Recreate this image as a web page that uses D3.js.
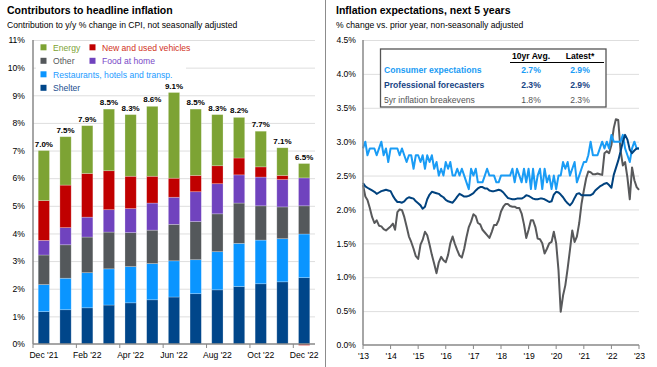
<!DOCTYPE html>
<html>
<head>
<meta charset="utf-8">
<script src="https://cdn.jsdelivr.net/npm/d3@7"></script>
<style>
  body { margin: 0; background: #fff; }
  svg { display: block; font-family: "Liberation Sans", Arial, sans-serif; }
</style>
</head>
<body>
<svg id="chart" width="657" height="367"></svg>
<script>
// ---- left panel data: contributions to y/y CPI (pp) ----
const months = ["Dec '21", "Jan '22", "Feb '22", "Mar '22", "Apr '22", "May '22", "Jun '22",
  "Jul '22", "Aug '22", "Sep '22", "Oct '22", "Nov '22", "Dec '22"];
const shelter = [1.17, 1.24, 1.31, 1.41, 1.49, 1.60, 1.70, 1.82, 1.96, 2.08, 2.18, 2.25, 2.40];
const restaurants = [0.98, 1.14, 1.27, 1.31, 1.31, 1.31, 1.31, 1.23, 1.38, 1.56, 1.58, 1.56, 1.58];
const other = [1.07, 1.21, 1.29, 1.33, 1.23, 1.21, 1.32, 1.38, 1.37, 1.46, 1.24, 1.15, 1.02];
const foodAtHome = [0.53, 0.62, 0.72, 0.81, 0.87, 0.98, 0.98, 1.08, 1.09, 1.02, 1.04, 0.99, 1.01];
const vehicles = [1.44, 1.54, 1.58, 1.41, 1.17, 0.97, 0.69, 0.59, 0.65, 0.61, 0.37, 0.15, -0.05];
const energy = [1.81, 1.75, 1.73, 2.23, 2.23, 2.53, 3.10, 2.40, 1.85, 1.47, 1.29, 1.00, 0.52];
const headline = [7.0, 7.5, 7.9, 8.5, 8.3, 8.6, 9.1, 8.5, 8.3, 8.2, 7.7, 7.1, 6.5];
const leftTicks = [0, 1, 2, 3, 4, 5, 6, 7, 8, 9, 10, 11];

// ---- right panel data: monthly, Jan 2013 .. Jan 2023 ----
const consumer = [
  2.9, 3.0, 2.8, 2.9, 2.9, 2.9, 2.8, 2.9, 3.0, 2.8, 2.9, 2.7,
  2.9, 2.9, 2.9, 2.9, 2.8, 2.9, 2.8, 2.7, 2.8, 2.8, 2.6, 2.8,
  2.8, 2.7, 2.8, 2.6, 2.8, 2.7, 2.8, 2.6, 2.7, 2.5, 2.6, 2.5,
  2.7, 2.6, 2.7, 2.5, 2.5, 2.6, 2.5, 2.6, 2.5, 2.4, 2.3, 2.6,
  2.5, 2.6, 2.4, 2.4, 2.4, 2.5, 2.6, 2.5, 2.5, 2.5, 2.4, 2.4,
  2.5, 2.5, 2.5, 2.5, 2.5, 2.6, 2.4, 2.6, 2.5, 2.4, 2.6, 2.4,
  2.6, 2.3, 2.6, 2.3, 2.5, 2.6, 2.3, 2.6, 2.4, 2.5, 2.3, 2.5,
  2.3, 2.5, 2.5, 2.7, 2.6, 2.7, 2.5, 2.6, 2.7, 2.4, 2.5, 2.6,
  2.7, 2.7, 2.8, 3.0, 2.8, 2.8, 2.8, 2.9, 3.0, 2.9, 3.0, 2.9,
  3.1, 3.0, 3.0, 3.0, 3.0, 3.1, 2.9, 2.8, 2.7, 2.9, 3.0, 2.9,
  2.9];
const professional = [
  2.39, 2.34, 2.32, 2.30, 2.28, 2.26, 2.23, 2.25, 2.27, 2.28, 2.29, 2.28,
  2.27, 2.20, 2.15, 2.11, 2.11, 2.10, 2.12, 2.16, 2.18, 2.17, 2.16, 2.12,
  2.09, 2.06, 2.01, 2.04, 2.15, 2.22, 2.26, 2.25, 2.24, 2.23, 2.20, 2.18,
  2.14, 2.12, 2.11, 2.10, 2.14, 2.19, 2.23, 2.21, 2.19, 2.19, 2.20, 2.22,
  2.24, 2.28, 2.31, 2.33, 2.33, 2.31, 2.31, 2.28, 2.27, 2.27, 2.28, 2.29,
  2.28, 2.25, 2.21, 2.17, 2.16, 2.15, 2.15, 2.16, 2.16, 2.16, 2.18, 2.21,
  2.20, 2.18, 2.16, 2.15, 2.15, 2.16, 2.16, 2.15, 2.13, 2.11, 2.12, 2.22,
  2.26, 2.25, 2.22, 2.18, 2.13, 2.09, 2.06, 2.10, 2.17, 2.23, 2.24, 2.21,
  2.21, 2.21, 2.21, 2.21, 2.23, 2.28, 2.31, 2.34, 2.36, 2.38, 2.39, 2.36,
  2.32, 2.51, 2.61, 2.72, 2.85, 3.00, 3.10, 3.03, 2.88, 2.83, 2.87, 2.90,
  2.90];
const breakevens = [
  2.36, 2.19, 2.14, 2.02, 1.89, 1.80, 1.84, 1.76, 1.75, 1.71, 1.69, 1.72,
  1.75, 1.79, 1.70, 1.96, 2.00, 1.99, 1.89, 1.75, 1.60, 1.52, 1.42, 1.31,
  1.27, 1.48, 1.55, 1.67, 1.62, 1.48, 1.33, 1.20, 1.06, 1.22, 1.30, 1.25,
  1.22, 1.33, 1.50, 1.60, 1.49, 1.40, 1.32, 1.29, 1.42, 1.59, 1.74, 1.82,
  1.93, 1.90, 1.80, 1.78, 1.70, 1.66, 1.62, 1.58, 1.67, 1.77, 1.77, 1.84,
  1.97, 2.04, 2.08, 2.08, 2.05, 2.04, 2.04, 2.02, 2.02, 1.94, 1.78, 1.58,
  1.70, 1.84, 1.84, 1.74, 1.57, 1.56, 1.50, 1.35, 1.42, 1.50, 1.52, 1.67,
  1.50, 1.10, 0.49, 0.73, 0.88, 1.13, 1.40, 1.69, 1.52, 1.60, 1.80, 2.08,
  2.28, 2.46, 2.56, 2.55, 2.52, 2.52, 2.53, 2.52, 2.51, 2.83, 2.86, 2.83,
  2.95, 3.20, 3.33, 3.32, 2.88, 2.65, 2.70, 2.47, 2.15, 2.62, 2.43, 2.33,
  2.29];
const rightTicks = [0, 0.5, 1, 1.5, 2, 2.5, 3, 3.5, 4, 4.5];
const tableRows = [
  { name: "Consumer expectations", avg: "2.7%", latest: "2.9%" },
  { name: "Professional forecasters", avg: "2.3%", latest: "2.9%" },
  { name: "5yr inflation breakevens", avg: "1.8%", latest: "2.3%" }
];

const W = 657, H = 367;
const svg = d3.select("#chart");
svg.append("rect").attr("width", W).attr("height", H).attr("fill", "#fff");

// divider between the two panels
svg.append("line").attr("x1", 325.5).attr("x2", 325.5).attr("y1", 0).attr("y2", H)
  .attr("stroke", "#8c8c8c").attr("stroke-width", 1);

// ================= left panel =================
const L = { left: 33, right: 315, top: 40, bottom: 344 };

svg.append("text").attr("x", 7).attr("y", 14).attr("font-size", 10.5).attr("font-weight", "bold")
  .text("Contributors to headline inflation");
svg.append("text").attr("x", 7).attr("y", 27.5).attr("font-size", 8.6)
  .text("Contribution to y/y % change in CPI, not seasonally adjusted");

const x = d3.scaleBand().domain(months).range([L.left, L.right])
  .paddingInner(0.48).paddingOuter(0.24);
const y = d3.scaleLinear().domain([0, 11]).range([L.bottom, L.top]);

// gridlines
svg.append("g").selectAll("line").data(leftTicks.filter(d => d > 0)).join("line")
  .attr("x1", L.left).attr("x2", L.right)
  .attr("y1", d => y(d) + 0.5).attr("y2", d => y(d) + 0.5)
  .attr("stroke", "#dedede").attr("stroke-width", 1);

// legend backdrop sits under the bars and labels
svg.append("rect").attr("x", 36).attr("y", 42).attr("width", 150).attr("height", 51).attr("fill", "#fff");

// y tick labels
svg.append("g").attr("transform", `translate(${L.left},0)`)
  .call(d3.axisLeft(y).tickValues(leftTicks).tickFormat(d => d + "%").tickSize(0).tickPadding(8))
  .call(g => g.select(".domain").remove())
  .selectAll("text").attr("font-size", 8.6).attr("font-family", null).attr("fill", "#000");

const keys = ["shelter", "restaurants", "other", "food", "vehicles", "energy"];
const colors = {
  shelter: "#00468a", restaurants: "#0a95ff", other: "#54585b",
  food: "#7043be", vehicles: "#c00000", energy: "#7da334"
};
const rows = months.map((m, i) => ({
  month: m, shelter: shelter[i], restaurants: restaurants[i], other: other[i],
  food: foodAtHome[i], vehicles: vehicles[i], energy: energy[i]
}));
const series = d3.stack().keys(keys).offset(d3.stackOffsetDiverging)(rows);

svg.append("g").selectAll("g").data(series).join("g")
  .attr("fill", s => colors[s.key])
  .selectAll("rect").data(s => s).join("rect")
  .attr("x", d => x(d.data.month))
  .attr("width", x.bandwidth())
  .attr("y", d => y(Math.max(d[0], d[1])))
  .attr("height", d => Math.abs(y(d[0]) - y(d[1])))
  .attr("stroke", "rgba(255,255,255,0.35)").attr("stroke-width", 0.7);

// headline labels
const posTop = rows.map(r => keys.reduce((s, k) => s + Math.max(0, r[k]), 0));
svg.append("g").selectAll("text").data(months).join("text")
  .attr("x", d => x(d) + x.bandwidth() / 2)
  .attr("y", (d, i) => y(posTop[i]) - 4)
  .attr("text-anchor", "middle").attr("font-size", 8).attr("font-weight", "bold")
  .text((d, i) => headline[i].toFixed(1) + "%");

// axes lines
svg.append("line").attr("x1", L.left).attr("x2", L.left).attr("y1", L.top).attr("y2", L.bottom)
  .attr("stroke", "#888").attr("stroke-width", 1.5);
svg.append("line").attr("x1", L.left).attr("x2", L.right).attr("y1", L.bottom).attr("y2", L.bottom)
  .attr("stroke", "#888").attr("stroke-width", 1.5);

const gap = (x.step() - x.bandwidth()) / 2;
const shownMonths = months.filter((m, i) => i % 2 === 0);
svg.append("g").selectAll("line").data(shownMonths).join("line")
  .attr("x1", d => x(d) - gap).attr("x2", d => x(d) - gap)
  .attr("y1", L.bottom).attr("y2", L.bottom + 4)
  .attr("stroke", "#888").attr("stroke-width", 1);

svg.append("g").attr("transform", `translate(0,${L.bottom})`)
  .call(d3.axisBottom(x).tickValues(shownMonths).tickSize(0).tickPadding(8))
  .call(g => g.select(".domain").remove())
  .selectAll("text").attr("font-size", 8.6).attr("font-family", null).attr("fill", "#000");

// legend
const legend = [
  { key: "energy", label: "Energy", col: 0, row: 0, text: "#7da334" },
  { key: "vehicles", label: "New and used vehicles", col: 1, row: 0, text: "#d0301a" },
  { key: "other", label: "Other", col: 0, row: 1, text: "#54585b" },
  { key: "food", label: "Food at home", col: 1, row: 1, text: "#7a4ac8" },
  { key: "restaurants", label: "Restaurants, hotels and transp.", col: 0, row: 2, text: "#1c9bff" },
  { key: "shelter", label: "Shelter", col: 0, row: 3, text: "#1d4f8f" }
];
const lg = svg.append("g").selectAll("g").data(legend).join("g")
  .attr("transform", d => `translate(${d.col ? 89.5 : 40.5},${44.3 + d.row * 13.5})`);
lg.append("rect").attr("width", 6).attr("height", 6).attr("fill", d => colors[d.key]);
lg.append("text").attr("x", 12.5).attr("y", 6.4).attr("font-size", 8.6)
  .attr("fill", d => d.text).text(d => d.label);

// ================= right panel =================
const R = { left: 363, right: 639, top: 40, bottom: 345 };

svg.append("text").attr("x", 336).attr("y", 14).attr("font-size", 10.5).attr("font-weight", "bold")
  .text("Inflation expectations, next 5 years");
svg.append("text").attr("x", 336).attr("y", 27.5).attr("font-size", 8.6)
  .text("% change vs. prior year, non-seasonally adjusted");

const dates = d3.utcMonths(new Date(Date.UTC(2013, 0, 1)), new Date(Date.UTC(2023, 0, 2)));
const xt = d3.scaleUtc().domain([new Date(Date.UTC(2013, 0, 1)), new Date(Date.UTC(2023, 0, 1))])
  .range([R.left, R.right]);
const y2 = d3.scaleLinear().domain([0, 4.5]).range([R.bottom, R.top]);

svg.append("g").selectAll("line").data(rightTicks.filter(d => d > 0)).join("line")
  .attr("x1", R.left).attr("x2", R.right)
  .attr("y1", d => y2(d) + 0.5).attr("y2", d => y2(d) + 0.5)
  .attr("stroke", "#dedede").attr("stroke-width", 1);

svg.append("g").attr("transform", `translate(${R.left},0)`)
  .call(d3.axisLeft(y2).tickValues(rightTicks).tickFormat(d => d.toFixed(1) + "%").tickSize(0).tickPadding(7))
  .call(g => g.select(".domain").remove())
  .selectAll("text").attr("font-size", 8.6).attr("font-family", null).attr("fill", "#000");

const years = d3.utcYears(new Date(Date.UTC(2013, 0, 1)), new Date(Date.UTC(2023, 0, 2)));
svg.append("g").selectAll("line").data(years).join("line")
  .attr("x1", d => xt(d)).attr("x2", d => xt(d))
  .attr("y1", R.bottom).attr("y2", R.bottom + 4)
  .attr("stroke", "#888").attr("stroke-width", 1);
svg.append("g").attr("transform", `translate(0,${R.bottom})`)
  .call(d3.axisBottom(xt).tickValues(years).tickFormat(d => "'" + d3.utcFormat("%y")(d)).tickSize(0).tickPadding(8))
  .call(g => g.select(".domain").remove())
  .selectAll("text").attr("font-size", 8.6).attr("font-family", null).attr("fill", "#000");

const line = d3.line().x((d, i) => xt(dates[i])).y(d => y2(d));
[[breakevens, "#58595b"], [consumer, "#1a9cf5"], [professional, "#00427e"]].forEach(([vals, c]) => {
  svg.append("path").datum(vals).attr("d", line)
    .attr("fill", "none").attr("stroke", c).attr("stroke-width", 2)
    .attr("stroke-linejoin", "round");
});

svg.append("line").attr("x1", R.left).attr("x2", R.left).attr("y1", R.top).attr("y2", R.bottom)
  .attr("stroke", "#888").attr("stroke-width", 1.5);
svg.append("line").attr("x1", R.left).attr("x2", R.right).attr("y1", R.bottom).attr("y2", R.bottom)
  .attr("stroke", "#888").attr("stroke-width", 1.5);

// summary table
const tb = svg.append("g");
tb.append("rect").attr("x", 380.5).attr("y", 49).attr("width", 225.5).attr("height", 58)
  .attr("fill", "#fff").attr("stroke", "#555").attr("stroke-width", 1.3);
tb.append("text").attr("x", 531).attr("y", 59.4).attr("text-anchor", "middle")
  .attr("font-size", 8.6).attr("font-weight", "bold").text("10yr Avg.");
tb.append("text").attr("x", 580).attr("y", 59.4).attr("text-anchor", "middle")
  .attr("font-size", 8.6).attr("font-weight", "bold").text("Latest*");
tb.append("line").attr("x1", 510).attr("x2", 604).attr("y1", 62.5).attr("y2", 62.5)
  .attr("stroke", "#000").attr("stroke-width", 1);
const rowStyle = [["#1a9cf5", "bold"], ["#174484", "bold"], ["#555", "normal"]];
const tr = tb.selectAll("g.row").data(tableRows).join("g").attr("class", "row")
  .attr("transform", (d, i) => `translate(0,${73 + i * 14.8})`)
  .attr("fill", (d, i) => rowStyle[i][0]).attr("font-weight", (d, i) => rowStyle[i][1])
  .attr("font-size", 8.6);
tr.append("text").attr("x", 384).text(d => d.name);
tr.append("text").attr("x", 531).attr("text-anchor", "middle").text(d => d.avg);
tr.append("text").attr("x", 580).attr("text-anchor", "middle").text(d => d.latest);
</script>
</body>
</html>
